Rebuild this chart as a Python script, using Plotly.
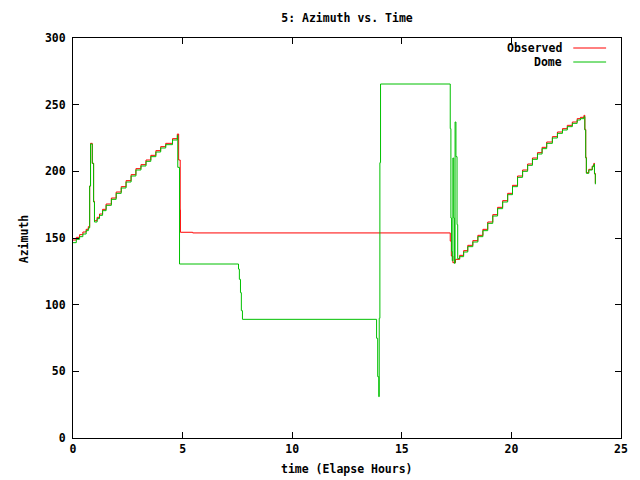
import plotly.graph_objects as go

# ---- data ----
obs_t = [0.00, 0.15, 0.30, 0.45, 0.60, 0.70, 0.76, 0.80, 0.88, 0.94, 0.98,
         1.10, 1.21, 1.35, 1.51, 1.75, 1.97, 2.20, 2.42, 2.65, 2.87, 3.10,
         3.33, 3.55, 3.78, 4.00, 4.23, 4.54, 4.76, 4.82, 4.89, 4.90, 5.46,
         17.21, 17.26, 17.33, 17.45, 17.64, 17.82, 18.01, 18.24, 18.47,
         18.70, 18.92, 19.15, 19.37, 19.60, 19.83, 20.05, 20.28, 20.51,
         20.74, 20.96, 21.19, 21.40, 21.61, 21.87, 22.10, 22.33, 22.55,
         22.78, 23.00, 23.15, 23.31, 23.35, 23.39, 23.42, 23.53, 23.69,
         23.76, 23.79, 23.83]
obs_az = [148.5, 150.5, 152.5, 154.5, 156.5, 158.5, 189, 221, 206, 177.5, 163,
          165.5, 168, 171.5, 175.5, 180, 184.5, 188.5, 193, 197.5, 202, 205,
          208.5, 212, 215.5, 218.5, 221, 224.5, 228, 208.5, 171.5, 154.3, 153.8,
          147.7, 136.5, 131.5, 134, 137, 140.5, 144.5, 148, 152,
          156.5, 162, 167.5, 173, 178, 183.5, 189.5, 196.5, 201,
          205.5, 210, 214, 218, 222, 226, 229.5, 232, 234.5,
          237, 239.5, 240.5, 242, 231.5, 210.5, 199, 201.5, 204,
          206, 198.5, 191]

dome_t = [0.00, 0.15, 0.30, 0.45, 0.60, 0.70, 0.76, 0.80, 0.88, 0.94, 0.98,
          1.10, 1.21, 1.35, 1.51, 1.75, 1.97, 2.20, 2.42, 2.65, 2.87, 3.10,
          3.33, 3.55, 3.78, 4.00, 4.23, 4.54, 4.76, 4.78, 4.86,
          7.55, 7.59, 7.64, 7.68, 7.73, 13.85, 13.90, 13.95, 13.97, 14.00,
          14.03, 17.21, 17.24, 17.27, 17.30, 17.33, 17.37, 17.40, 17.43,
          17.47, 17.52, 17.55, 17.64, 17.82, 18.01, 18.24, 18.47,
          18.70, 18.92, 19.15, 19.37, 19.60, 19.83, 20.05, 20.28, 20.51,
          20.74, 20.96, 21.19, 21.40, 21.61, 21.87, 22.10, 22.33, 22.55,
          22.78, 23.00, 23.15, 23.31, 23.35, 23.39, 23.42, 23.53, 23.69,
          23.76, 23.79, 23.83]
dome_az = [146.5, 149, 151, 153, 155.5, 157.5, 189, 220.5, 206, 177, 162,
           164.5, 167, 170.5, 174.5, 179, 183.5, 187.5, 192, 196.5, 201, 204,
           207.5, 211, 214.5, 217.5, 220, 223.5, 227, 203, 130.5,
           126.7, 119, 109, 95.5, 89, 74.8, 46, 31, 89.8, 206.5,
           265.5, 232, 165, 140, 133, 210, 165, 131, 237,
           211, 160, 134.5, 136, 139.5, 143.5, 147, 151,
           155.5, 161, 166.5, 172, 177, 182.5, 188.5, 195.5, 200,
           204.5, 209, 213, 217, 221, 225, 228.5, 231, 233.5,
           236, 238.5, 239.5, 241, 231, 210, 198.5, 201, 203.5,
           205.3, 198, 190.3]

x_ticks = [0, 5, 10, 15, 20, 25]
y_ticks = [0, 50, 100, 150, 200, 250, 300]

FONT = dict(family="DejaVu Sans Mono", size=11.5, color="black", weight="bold")
RED = "#ff0000"
GREEN = "#00c000"

fig = go.Figure()
fig.add_trace(go.Scatter(x=obs_t, y=obs_az, mode="lines", name="Observed",
                         line=dict(color=RED, width=1, shape="hv")))
fig.add_trace(go.Scatter(x=dome_t, y=dome_az, mode="lines", name="Dome",
                         line=dict(color=GREEN, width=1, shape="hv")))

axis_common = dict(showline=True, linecolor="black", linewidth=1, mirror="allticks",
                   ticks="inside", ticklen=6, tickcolor="black", tickwidth=1,
                   showgrid=False, zeroline=False, tickfont=FONT)
fig.update_xaxes(range=[0, 25], tickvals=x_ticks, ticktext=[str(v) for v in x_ticks],
                 **axis_common)
fig.update_yaxes(range=[0, 300], tickvals=y_ticks, ticktext=[str(v) for v in y_ticks],
                 ticklabelstandoff=4, **axis_common)

# legend drawn gnuplot-style (text right, sample line after it)
legend_entries = [("Observed", RED, 0.975), ("Dome", GREEN, 0.94)]
shapes = []
annotations = []
for label, col, yy in legend_entries:
    annotations.append(dict(text=label, xref="paper", yref="paper", x=0.8966, y=yy,
                            xanchor="right", yanchor="middle", showarrow=False, font=FONT))
    shapes.append(dict(type="line", xref="paper", yref="paper", x0=0.9129, x1=0.9728,
                       y0=yy, y1=yy, line=dict(color=col, width=1)))

annotations.append(dict(text="time (Elapse Hours)", xref="paper", yref="paper",
                        x=0.5, y=-0.0775, xanchor="center", yanchor="middle",
                        showarrow=False, font=FONT))
annotations.append(dict(text="Azimuth", xref="paper", yref="paper",
                        x=-0.089, y=0.4975, xanchor="center", yanchor="middle",
                        textangle=-90, showarrow=False, font=FONT))

fig.update_layout(
    width=640, height=480,
    margin=dict(l=73, r=16, t=38, b=42),
    paper_bgcolor="white", plot_bgcolor="white",
    showlegend=False,
    title=dict(text="5: Azimuth vs. Time", font=FONT, x=0.5, xref="paper",
               y=1 - 18 / 480, yref="container", xanchor="center", yanchor="middle"),
    shapes=shapes, annotations=annotations,
)

fig.write_html("out.html")
